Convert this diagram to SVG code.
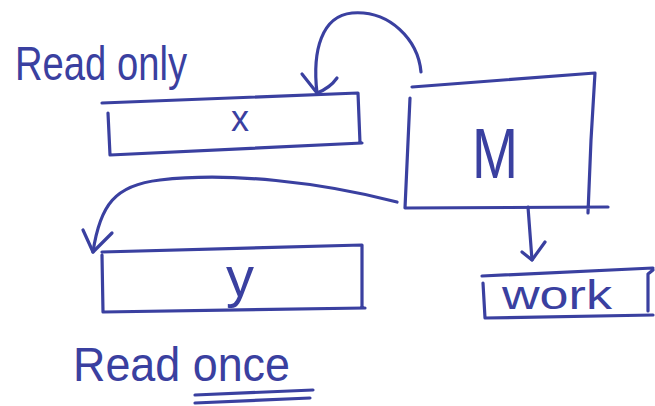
<svg xmlns="http://www.w3.org/2000/svg" width="655" height="406" viewBox="0 0 655 406">
  <style>
    .ink { fill: none; stroke: #3a40a0; stroke-width: 3.2; stroke-linecap: round; stroke-linejoin: round; }
    .lbl { fill: #3a40a0; font-family: "Liberation Sans", "DejaVu Sans", sans-serif; }
  </style>
  <rect width="655" height="406" fill="#ffffff"/>

  <!-- annotations -->
  <g id="note-read-only">
    <text class="lbl" x="15" y="80" font-size="48" textLength="172" lengthAdjust="spacingAndGlyphs">Read only</text>
  </g>
  <g id="note-read-once">
    <text class="lbl" x="73" y="381" font-size="48" textLength="217" lengthAdjust="spacingAndGlyphs">Read once</text>
    <path class="ink" d="M195,395 L313,390 M195,403 L310,398"/>
  </g>

  <!-- input tape x -->
  <g id="node-x">
    <path class="ink" d="M102,103 L358,93 L360,143 M362,143 L110,155 M108,113 L110,155"/>
    <text class="lbl" x="240" y="131" font-size="36" text-anchor="middle">x</text>
  </g>

  <!-- machine M -->
  <g id="node-M">
    <path class="ink" d="M412,87 L595,73 L591,140 L588,213 M410,98 L405,208 L608,207"/>
    <text class="lbl" x="495" y="178" font-size="70" text-anchor="middle" textLength="46" lengthAdjust="spacingAndGlyphs">M</text>
  </g>

  <!-- output tape y -->
  <g id="node-y">
    <path class="ink" d="M102,252 L362,245 L362,308 M103,312 L365,308 M102,255 L103,312"/>
    <text class="lbl" x="240" y="296" font-size="56" text-anchor="middle">y</text>
  </g>

  <!-- work tape -->
  <g id="node-work">
    <path class="ink" d="M482,276 L653,268 M483,283 L485,318 L653,315 M653,270 L648,274 L648,311"/>
    <text class="lbl" x="502" y="309" font-size="40" textLength="110" lengthAdjust="spacingAndGlyphs">work</text>
  </g>

  <!-- connectors -->
  <g id="connectors">
    <path class="ink" d="M421,72 C418,40 390,10 352,13 C322,16 312,50 317,93"/>
    <path class="ink" d="M302,74 L317,93 Q330,88 337,78"/>
    <path class="ink" d="M397,202 C320,182 230,172 160,180 C115,185 100,205 93,252"/>
    <path class="ink" d="M83,230 L93,252 L112,233"/>
    <path class="ink" d="M528,207 L532,260"/>
    <path class="ink" d="M522,252 L532,260 L545,242"/>
  </g>
</svg>
